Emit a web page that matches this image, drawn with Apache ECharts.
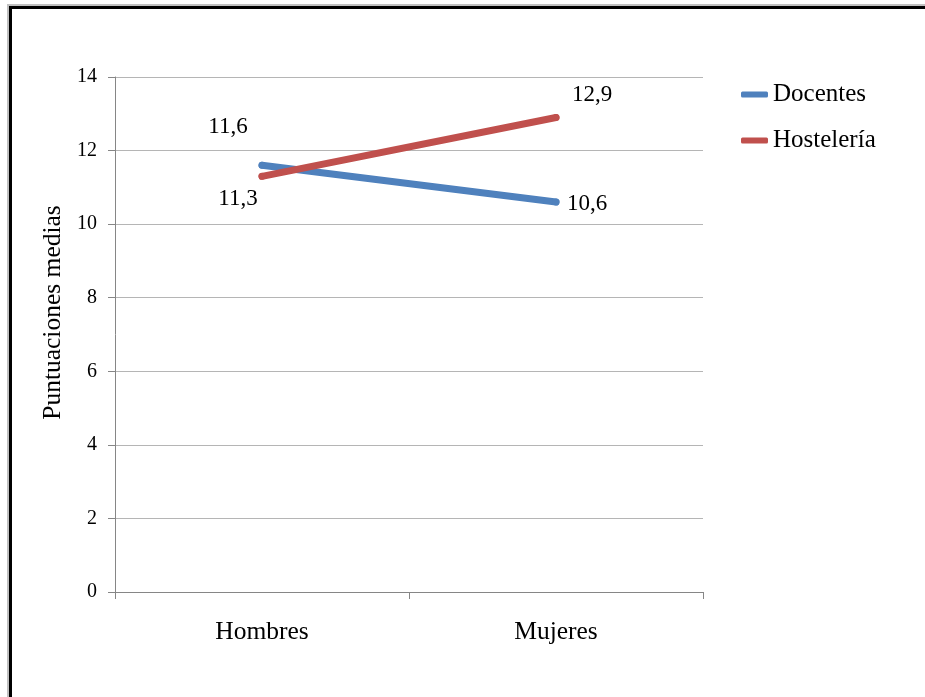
<!DOCTYPE html>
<html>
<head>
<meta charset="utf-8">
<script src="https://cdn.jsdelivr.net/npm/echarts@6/dist/echarts.min.js"></script>
<style>
  html, body { margin: 0; padding: 0; background: #fff; }
  #chart { width: 925px; height: 697px; }
</style>
</head>
<body>
<div id="chart"></div>
<script>
// Mean scores by sex for two occupational groups
const categories = ['Hombres', 'Mujeres'];
const docentes = [11.6, 10.6];
const hosteleria = [11.3, 12.9];
const yTicks = { min: 0, max: 14, step: 2 };

// Label offsets for each point (pixels from the point)
const docentesLabelOffsets = [[-34, -38], [31, 2]];
const hosteleriaLabelOffsets = [[-24, 23], [36, -23]];

const serif = '"Liberation Serif", "Times New Roman", serif';
const fmt = v => String(v).replace('.', ',');

function buildData(values, offsets) {
  return values.map((v, i) => ({
    value: v,
    label: { offset: offsets[i] }
  }));
}

function lineSeries(name, values, offsets, color) {
  return {
    name: name,
    type: 'line',
    data: buildData(values, offsets),
    symbol: 'circle',
    symbolSize: 7,
    itemStyle: { color: color },
    lineStyle: { color: color, width: 7, cap: 'round' },
    label: {
      show: true,
      position: 'inside',
      color: '#000',
      fontFamily: serif,
      fontSize: 23,
      formatter: p => fmt(p.value)
    },
    emphasis: { disabled: true },
    animation: false
  };
}

const chart = echarts.init(document.getElementById('chart'), null, { renderer: 'canvas' });
chart.setOption({
  backgroundColor: '#fff',
  animation: false,
  graphic: [
    { type: 'rect', shape: { x: 7, y: 4, width: 930, height: 2 }, style: { fill: '#c0c0c0' } },
    { type: 'rect', shape: { x: 7, y: 4, width: 2, height: 700 }, style: { fill: '#c0c0c0' } },
    { type: 'rect', shape: { x: 9, y: 6, width: 930, height: 3 }, style: { fill: '#000' } },
    { type: 'rect', shape: { x: 9, y: 6, width: 3, height: 700 }, style: { fill: '#000' } }
  ],
  grid: { left: 115, right: 222, top: 77, bottom: 105, containLabel: false },
  legend: {
    orient: 'vertical',
    left: 736,
    top: 77,
    itemWidth: 27,
    itemHeight: 6,
    itemGap: 21,
    icon: 'roundRect',
    data: ['Docentes', 'Hostelería'],
    textStyle: { fontFamily: serif, fontSize: 25, color: '#000' }
  },
  xAxis: {
    type: 'category',
    data: categories,
    boundaryGap: true,
    axisLine: { lineStyle: { color: '#868686', width: 1 } },
    axisTick: { show: true, length: 7, lineStyle: { color: '#868686' } },
    axisLabel: { fontFamily: serif, fontSize: 25.5, color: '#000', margin: 27 }
  },
  yAxis: {
    type: 'value',
    min: yTicks.min,
    max: yTicks.max,
    interval: yTicks.step,
    name: 'Puntuaciones medias',
    nameLocation: 'middle',
    nameGap: 45,
    nameTextStyle: { fontFamily: serif, fontSize: 25.5, color: '#000', padding: [0, 0, 0, 44] },
    axisLine: { show: true, lineStyle: { color: '#868686', width: 1 } },
    axisTick: { show: true, length: 7, lineStyle: { color: '#868686' } },
    axisLabel: { fontFamily: serif, fontSize: 20, color: '#000', margin: 18 },
    splitLine: { show: true, lineStyle: { color: '#b5b5b5', width: 1 } }
  },
  series: [
    lineSeries('Docentes', docentes, docentesLabelOffsets, '#4f81bd'),
    lineSeries('Hostelería', hosteleria, hosteleriaLabelOffsets, '#c0504d')
  ]
});
</script>
</body>
</html>
